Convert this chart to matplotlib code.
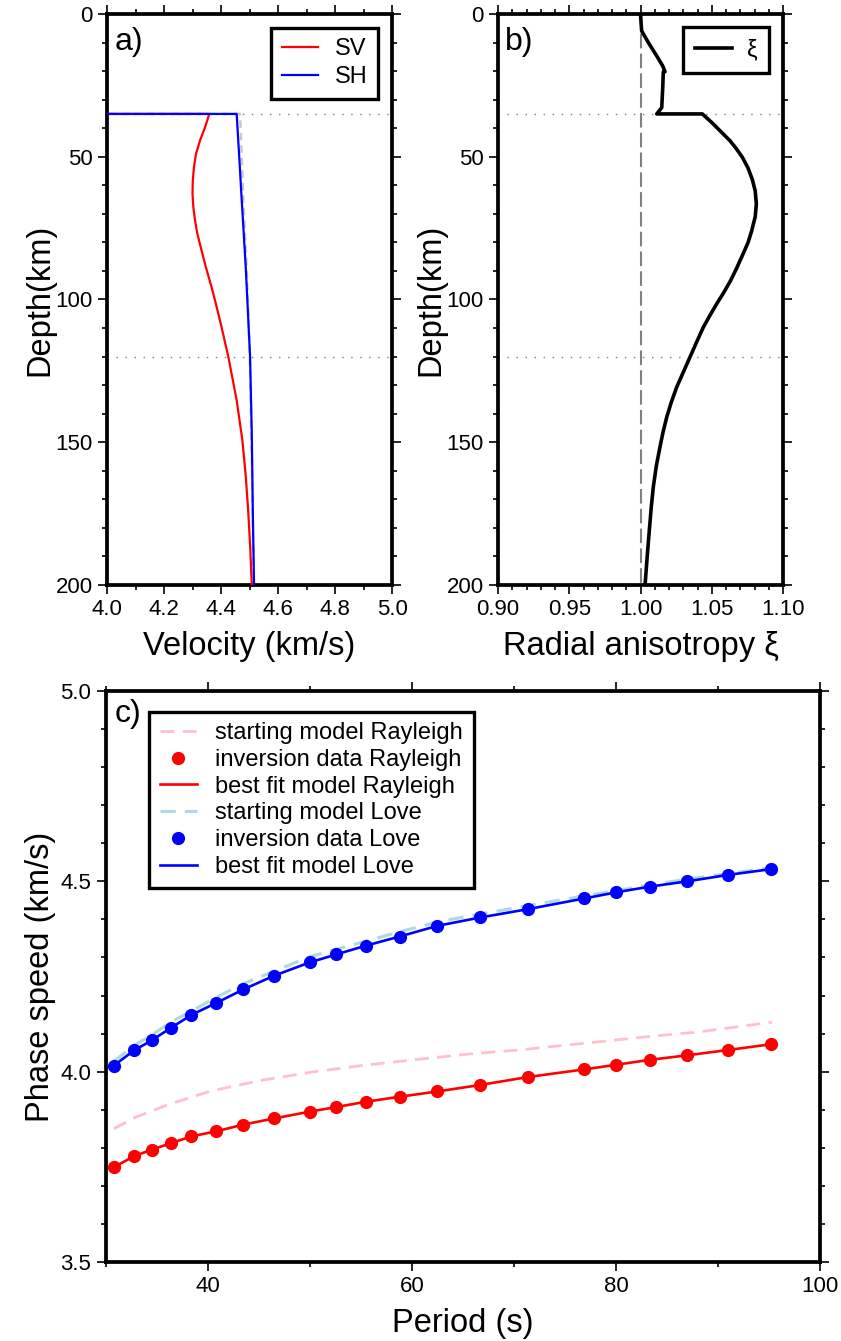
import matplotlib
matplotlib.use('Agg')
import matplotlib.pyplot as plt
from matplotlib.ticker import MultipleLocator, FormatStrFormatter

plt.rcParams['font.family'] = ['Liberation Sans', 'DejaVu Sans']

# ---------------- Panel a: velocity profiles ----------------
sv_depth = [0, 35, 35, 39.7, 44.4, 49.1, 53.7, 58.4, 63, 67.7, 72.4, 77, 82.9, 88.7,
            95.7, 102.7, 109.7, 120.2, 135.3, 149.3, 162, 175, 188, 200]
sv_vel = [3.70, 3.70, 4.359, 4.344, 4.326, 4.312, 4.305, 4.301, 4.300, 4.303, 4.309, 4.317,
          4.332, 4.347, 4.367, 4.385, 4.402, 4.426, 4.455, 4.475, 4.487, 4.496, 4.503, 4.508]

sh_depth = [0, 35, 35, 50, 64, 89, 120, 147, 177, 200]
sh_vel = [3.70, 3.70, 4.455, 4.464, 4.472, 4.487, 4.502, 4.508, 4.512, 4.516]

start_depth = [0, 35, 35, 64, 89, 120, 160, 200]
start_vel = [3.70, 3.70, 4.467, 4.478, 4.490, 4.501, 4.509, 4.515]

# ---------------- Panel b: radial anisotropy ----------------
xi_depth = [0, 5.9, 10, 14.7, 18.2, 20.2, 20.3, 25.8, 32.8, 35, 35, 38, 41, 44.4, 47, 50.2,
            54, 58, 62, 66.5, 71, 76, 80, 84, 89, 93.4, 97.5, 101.5, 105.5, 109.7, 115,
            120.2, 125.5, 130.7, 136, 141.2, 146.5, 151.6, 158, 165.6, 173, 180.8, 190, 200]
xi_val = [1.000, 1.0008, 1.0055, 1.0114, 1.0156, 1.0172, 1.016, 1.0156, 1.0149, 1.0114,
          1.0434, 1.050, 1.056, 1.0628, 1.067, 1.0715, 1.0755, 1.0785, 1.0805, 1.0813,
          1.0805, 1.078, 1.0755, 1.072, 1.0675, 1.0632, 1.0585, 1.0535, 1.0488, 1.0441,
          1.0393, 1.0347, 1.030, 1.0254, 1.0216, 1.0184, 1.0158, 1.0137, 1.0112, 1.009,
          1.0075, 1.0062, 1.0047, 1.0032]
xi_start_depth = [0, 200]
xi_start = [1.0, 1.0]

# ---------------- Panel c: dispersion ----------------
periods = [30.8, 32.8, 34.5, 36.4, 38.4, 40.8, 43.5, 46.5, 50.0, 52.6, 55.5, 58.8,
           62.5, 66.7, 71.4, 76.9, 80.0, 83.3, 87.0, 91.0, 95.2]
rayleigh_data = [3.749, 3.778, 3.795, 3.812, 3.830, 3.843, 3.861, 3.877, 3.895, 3.907,
                 3.921, 3.934, 3.948, 3.965, 3.986, 4.006, 4.018, 4.031, 4.043, 4.057, 4.072]
rayleigh_best = [3.749, 3.778, 3.795, 3.812, 3.830, 3.843, 3.861, 3.877, 3.895, 3.907,
                 3.921, 3.934, 3.948, 3.965, 3.986, 4.006, 4.018, 4.031, 4.043, 4.057, 4.072]
love_data = [4.016, 4.056, 4.082, 4.115, 4.149, 4.180, 4.216, 4.252, 4.287, 4.308,
             4.331, 4.355, 4.383, 4.405, 4.427, 4.455, 4.471, 4.486, 4.500, 4.517, 4.532]
love_best = [4.016, 4.056, 4.082, 4.115, 4.149, 4.180, 4.216, 4.252, 4.287, 4.308,
             4.331, 4.355, 4.383, 4.405, 4.427, 4.455, 4.471, 4.486, 4.500, 4.517, 4.532]

start_ray_periods = [30.8, 33.0, 36.2, 40.3, 45.2, 50.2, 55.1, 60.1, 65.5, 70.9, 76.7,
                     83.5, 88.0, 95.3]
start_ray = [3.850, 3.881, 3.914, 3.949, 3.977, 3.999, 4.016, 4.031, 4.046, 4.058, 4.074,
             4.093, 4.104, 4.130]
start_love_periods = [30.8, 32.8, 34.5, 36.4, 40.9, 43.5, 50.0, 58.9, 62.6, 66.7, 76.9,
                      87.0, 95.3]
start_love = [4.027, 4.069, 4.096, 4.130, 4.196, 4.231, 4.302, 4.368, 4.394, 4.414, 4.462,
              4.506, 4.536]

W, H = 841, 1341
fig = plt.figure(figsize=(W / 100, H / 100), dpi=100)

FRAME_LW = 2.7
TICK_FS = 16
LABEL_FS = 23.5
DOT_COLOR = '#7f7f7f'


def style_axes(ax):
    for s in ax.spines.values():
        s.set_linewidth(FRAME_LW)
        s.set_color('black')
    ax.tick_params(which='both', direction='out', top=True, right=True,
                   labeltop=False, labelright=False, width=1.2, color='black')
    ax.tick_params(which='major', length=6.2, pad=4, labelsize=TICK_FS)
    ax.tick_params(which='minor', length=3.4)


def px_axes(left, top, right, bottom):
    return fig.add_axes([left / W, 1 - bottom / H, (right - left) / W, (bottom - top) / H])


def style_legend(leg):
    fr = leg.get_frame()
    fr.set_linewidth(2.4)
    fr.set_edgecolor('black')
    fr.set_alpha(1.0)


# ---- Panel a ----
axa = px_axes(107, 14, 392, 585)
axa.plot(start_vel, start_depth, color='#c8c8c8', lw=1.8, dashes=(3, 2), zorder=2)
axa.plot(sv_vel, sv_depth, color='#ff0000', lw=1.6, label='SV', zorder=3)
axa.plot(sh_vel, sh_depth, color='#0000ff', lw=1.6, label='SH', zorder=4)
axa.axhline(35, color=DOT_COLOR, lw=1.0, ls=(0, (1, 5.5)), zorder=1)
axa.axhline(120, color=DOT_COLOR, lw=1.0, ls=(0, (1, 5.5)), zorder=1)
axa.set_xlim(4.0, 5.0)
axa.set_ylim(200, 0)
axa.xaxis.set_major_locator(MultipleLocator(0.2))
axa.xaxis.set_minor_locator(MultipleLocator(0.1))
axa.xaxis.set_major_formatter(FormatStrFormatter('%.1f'))
axa.yaxis.set_major_locator(MultipleLocator(50))
axa.yaxis.set_minor_locator(MultipleLocator(10))
style_axes(axa)
axa.set_xlabel('Velocity (km/s)', fontsize=LABEL_FS)
axa.set_ylabel('Depth(km)', fontsize=LABEL_FS)
axa.xaxis.set_label_coords(0.5, -0.08)
axa.yaxis.set_label_coords(-0.18, 0.5)
axa.text(0.025, 0.937, 'a)', transform=axa.transAxes, fontsize=23, ha='left', va='baseline')
lega = axa.legend(loc='upper right', bbox_to_anchor=(0.952, 0.976), fontsize=17,
                  frameon=True, fancybox=False, framealpha=1, edgecolor='black',
                  handlelength=1.55, handletextpad=0.7, borderpad=0.45, labelspacing=0.25,
                  borderaxespad=0)
style_legend(lega)

# ---- Panel b ----
axb = px_axes(498, 14, 783, 585)
axb.plot(xi_start, xi_start_depth, color='#808080', lw=1.5, dashes=(7, 2.5), zorder=2)
axb.plot(xi_val, xi_depth, color='black', lw=2.6, label='ξ', zorder=3)
axb.axhline(35, color=DOT_COLOR, lw=1.0, ls=(0, (1, 5.5)), zorder=1)
axb.axhline(120, color=DOT_COLOR, lw=1.0, ls=(0, (1, 5.5)), zorder=1)
axb.set_xlim(0.90, 1.10)
axb.set_ylim(200, 0)
axb.xaxis.set_major_locator(MultipleLocator(0.05))
axb.xaxis.set_minor_locator(MultipleLocator(0.01))
axb.xaxis.set_major_formatter(FormatStrFormatter('%.2f'))
axb.yaxis.set_major_locator(MultipleLocator(50))
axb.yaxis.set_minor_locator(MultipleLocator(10))
style_axes(axb)
axb.set_xlabel('Radial anisotropy ξ', fontsize=LABEL_FS)
axb.set_ylabel('Depth(km)', fontsize=LABEL_FS)
axb.xaxis.set_label_coords(0.5, -0.08)
axb.yaxis.set_label_coords(-0.18, 0.5)
axb.text(0.025, 0.937, 'b)', transform=axb.transAxes, fontsize=23, ha='left', va='baseline')
legb = axb.legend(loc='upper right', bbox_to_anchor=(0.951, 0.977), fontsize=17,
                  frameon=True, fancybox=False, framealpha=1, edgecolor='black',
                  handlelength=1.6, handletextpad=0.6, borderpad=0.5, borderaxespad=0)
style_legend(legb)

# ---- Panel c ----
axc = px_axes(105.6, 691, 820, 1262)
h1, = axc.plot(start_ray_periods, start_ray, color='#ffc0cb', lw=2.0, dashes=(5, 3),
               label='starting model Rayleigh', zorder=2)
h3, = axc.plot(periods, rayleigh_best, color='#ff0000', lw=1.9,
               label='best fit model Rayleigh', zorder=3)
h2, = axc.plot(periods, rayleigh_data, 'o', color='#ff0000', ms=8.5, ls='none',
               label='inversion data Rayleigh', zorder=4)
h4, = axc.plot(start_love_periods, start_love, color='#add8e6', lw=2.2, dashes=(5, 3),
               label='starting model Love', zorder=2)
h6, = axc.plot(periods, love_best, color='#0000ff', lw=1.9,
               label='best fit model Love', zorder=3)
h5, = axc.plot(periods, love_data, 'o', color='#0000ff', ms=8.5, ls='none',
               label='inversion data Love', zorder=4)
axc.set_xlim(30, 100)
axc.set_ylim(3.5, 5.0)
axc.xaxis.set_major_locator(MultipleLocator(20))
axc.xaxis.set_minor_locator(MultipleLocator(10))
axc.yaxis.set_major_locator(MultipleLocator(0.5))
axc.yaxis.set_minor_locator(MultipleLocator(0.1))
axc.yaxis.set_major_formatter(FormatStrFormatter('%.1f'))
style_axes(axc)
axc.set_xlabel('Period (s)', fontsize=LABEL_FS)
axc.set_ylabel('Phase speed (km/s)', fontsize=LABEL_FS)
axc.xaxis.set_label_coords(0.5, -0.08)
axc.yaxis.set_label_coords(-0.0694, 0.5)
axc.text(0.013, 0.946, 'c)', transform=axc.transAxes, fontsize=23, ha='left', va='baseline')
legc = axc.legend(handles=[h1, h2, h3, h4, h5, h6], loc='upper left',
                  bbox_to_anchor=(0.0612, 0.964), fontsize=17, frameon=True,
                  fancybox=False, framealpha=1, edgecolor='black', handlelength=1.55,
                  handletextpad=0.8, borderpad=0.45, labelspacing=0.2, borderaxespad=0)
style_legend(legc)

fig.savefig('out.png', dpi=100)
